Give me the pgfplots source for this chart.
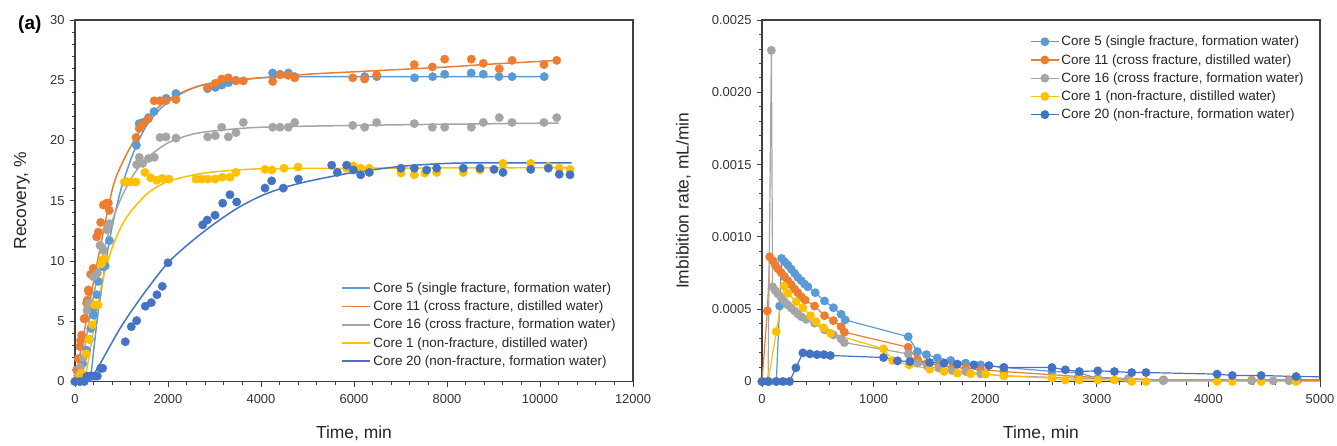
\documentclass[border=0pt]{standalone}
\usepackage{fontspec}
\setmainfont{Liberation Sans}
\usepackage{pgfplots}
\pgfplotsset{compat=1.18}

\definecolor{cfive}{HTML}{5B9BD5}
\definecolor{celeven}{HTML}{ED7D31}
\definecolor{csixteen}{HTML}{A5A5A5}
\definecolor{cone}{HTML}{FFC000}
\definecolor{ctwenty}{HTML}{4472C4}

\pgfplotsset{
  panel/.style={
    scale only axis, width=558bp, height=361.5bp,
    axis line style={black!75, line width=1.1bp},
    tick align=outside, tick pos=left,
    major tick length=5bp, minor tick length=3bp,
    every tick/.style={black!75, line width=0.8bp},
    minor x tick num=4, minor y tick num=4,
    tick label style={font=\fontsize{13}{15}\selectfont, text=black!80},
    xticklabel style={yshift=-4bp},
    yticklabel style={xshift=-2bp},
    label style={font=\fontsize{17.5}{20}\selectfont, text=black!85},
    /pgf/number format/assume math mode=true,
    /pgf/number format/1000 sep={},
    scaled ticks=false,
    legend style={draw=none, fill=none, font=\fontsize{13.5}{15}\selectfont,
      text=black!85, cells={anchor=west}, row sep=3bp},
    legend image code/.code={\draw[mark repeat=2,mark phase=2]
      plot coordinates {(0bp,0bp) (14bp,0bp) (28bp,0bp)};},
  },
  pts/.style={only marks, mark=*, mark size=4.2bp, color=#1, forget plot},
  fit/.style={color=#1, line width=1.5bp, smooth, no marks, forget plot},
  ser/.style={color=#1, line width=1.2bp, mark=*, mark size=3.8bp},
  tail/.style={color=#1, line width=1.2bp, no marks, forget plot},
}

\begin{document}
\begin{tikzpicture}
\useasboundingbox (0,0) rectangle (1337bp,446bp);

% ---------- (a) recovery ----------
\begin{axis}[panel, at={(75bp,64.5bp)}, anchor=south west,
  xmin=0, xmax=12000, ymin=0, ymax=30,
  xtick={0,2000,...,12000}, ytick={0,5,...,30},
  clip=false,
  xlabel={Time, min}, ylabel={Recovery, \%},
  xlabel style={at={(axis description cs:0.5,-0.143)}, anchor=center},
  ylabel style={at={(axis description cs:-0.095,0.5)}, anchor=center},
  legend style={at={(axis description cs:0.472,0.285)}, anchor=north west},
]
% Core 5
\addplot[pts=cfive] coordinates {
 (0,0) (100,0) (165,1.5) (250,2.6) (310,3.5) (340,4.4) (395,5.5) (400,6.1)
 (470,7.2) (500,8.3) (610,9.5) (650,9.6) (740,11.7) (1320,19.6) (1380,21.4)
 (1460,21.5) (1580,21.9) (1700,22.4) (1960,23.5) (2170,23.9) (2850,24.3)
 (3020,24.4) (3160,24.6) (3300,24.8) (3460,25.0) (4250,25.6) (4410,25.5)
 (4590,25.6) (4720,25.3) (6230,25.3) (6490,25.3) (7300,25.2) (7690,25.3)
 (7950,25.5) (8520,25.6) (8780,25.5) (9120,25.3) (9400,25.3) (10090,25.3)
};
\addplot[fit=cfive] coordinates {
 (330,0) (500,5.8) (750,11.9) (1000,16.1) (1300,19.4) (1600,21.6) (2000,23.2)
 (2500,24.3) (3000,24.8) (4000,25.2) (5000,25.3) (7000,25.3) (10090,25.3)
};
% Core 11
\addplot[pts=celeven] coordinates {
 (0,0) (36,0.95) (50,1.0) (71,1.9) (107,2.9) (122,3.4) (144,3.85) (194,5.2)
 (215,5.25) (251,6.5) (265,6.75) (286,7.6) (295,7.45) (337,8.9) (366,8.9)
 (394,9.4) (466,12.0) (501,12.4) (552,13.2) (609,14.65) (660,14.7) (681,14.8)
 (717,14.8) (738,14.2) (1312,20.25) (1383,21.0) (1455,21.35) (1577,21.8)
 (1705,23.3) (1828,23.3) (1957,23.3) (2172,23.4) (2853,24.4) (3017,24.75)
 (3155,25.1) (3297,25.2) (3462,24.95) (3620,24.95) (4251,24.9) (4409,25.45)
 (4588,25.4) (4725,25.2) (5972,25.2) (6229,25.1) (6487,25.45) (7297,26.3)
 (7685,26.1) (7950,26.75) (8523,26.75) (8781,26.4) (9125,25.95) (9398,26.65)
 (10086,26.3) (10359,26.65)
};
\addplot[fit=celeven] coordinates {
 (0,0) (250,5.2) (500,10.3) (800,15.9) (1000,18.0) (1300,20.2) (1600,22.0)
 (2000,23.4) (2500,24.3) (3000,24.8) (4000,25.2) (5000,25.5) (6000,25.7)
 (7000,25.9) (8000,26.1) (9000,26.35) (10400,26.65)
};
% Core 16
\addplot[pts=csixteen] coordinates {
 (0,0) (60,0.5) (120,1.2) (180,2.0) (258,5.9) (300,6.5) (394,8.7) (480,9.0)
 (537,11.3) (609,10.9) (681,12.6) (740,13.1) (1326,18.0) (1383,18.6)
 (1455,18.1) (1577,18.5) (1705,18.6) (1828,20.25) (1957,20.3) (2172,20.2)
 (2853,20.3) (3017,20.4) (3155,21.1) (3297,20.3) (3462,20.65) (3620,21.5)
 (4251,21.1) (4409,21.1) (4588,21.1) (4725,21.5) (5972,21.25) (6229,21.1)
 (6487,21.5) (7297,21.4) (7685,21.1) (7950,21.1) (8523,21.1) (8781,21.5)
 (9125,21.9) (9398,21.5) (10086,21.5) (10359,21.9)
};
\addplot[fit=csixteen] coordinates {
 (100,0) (300,5.0) (500,9.0) (750,12.7) (1000,15.3) (1300,17.4) (1600,18.7)
 (2000,19.8) (2500,20.5) (3000,20.8) (4000,21.1) (6000,21.25) (8000,21.35)
 (10400,21.45)
};
% Core 1
\addplot[pts=cone] coordinates {
 (0,0) (107,0.5) (136,0.7) (243,2.3) (300,3.5) (373,4.7) (423,6.35) (466,6.35)
 (495,6.35) (566,9.75) (595,10.1) (640,10.2) (1061,16.55) (1104,16.6)
 (1183,16.55) (1312,16.55) (1505,17.35) (1628,16.9) (1757,16.7) (1878,16.85)
 (2022,16.8) (2602,16.8) (2725,16.8) (2853,16.8) (3017,16.8) (3168,16.95)
 (3333,16.95) (3462,17.35) (4086,17.6) (4237,17.55) (4495,17.7) (4796,17.8)
 (5842,17.7) (5986,17.9) (6144,17.7) (6329,17.7) (7011,17.3) (7297,17.15)
 (7525,17.3) (7778,17.35) (8351,17.35) (8710,17.55) (9204,18.1) (9800,18.1)
 (10179,17.85) (10415,17.7) (10645,17.6)
};
\addplot[fit=cone] coordinates {
 (200,0) (300,2.0) (450,5.5) (600,8.5) (800,11.1) (1000,12.9) (1200,14.1)
 (1500,15.4) (1700,16.0) (2000,16.6) (2500,17.1) (3000,17.4) (4000,17.65)
 (6000,17.7) (10650,17.75)
};
% Core 20
\addplot[pts=ctwenty] coordinates {
 (0,0) (100,0) (200,0) (251,0.4) (280,0.45) (330,0.45) (380,0.45) (430,0.45)
 (480,0.45) (552,1.1) (595,1.1) (1082,3.3) (1211,4.55) (1326,5.05) (1512,6.25)
 (1641,6.55) (1763,7.2) (1877,7.9) (2000,9.85) (2746,13.0) (2845,13.4)
 (3011,13.8) (3176,14.8) (3333,15.5) (3477,14.9) (4086,16.05) (4230,16.65)
 (4480,16.05) (4803,16.8) (5520,17.95) (5641,17.35) (5842,17.95) (5986,17.55)
 (6144,17.15) (6329,17.35) (7011,17.7) (7297,17.7) (7563,17.55) (7778,17.7)
 (8351,17.7) (8710,17.7) (9011,17.6) (9204,17.35) (9800,17.6) (10179,17.7)
 (10415,17.2) (10645,17.15)
};
\addplot[fit=ctwenty] coordinates {
 (300,0) (500,1.2) (1000,4.6) (1500,7.4) (2000,9.85) (2500,11.6) (3000,13.1)
 (3500,14.4) (4000,15.4) (4500,16.1) (5000,16.6) (5500,17.0) (6000,17.35)
 (7000,17.85) (8000,18.1) (9000,18.15) (10680,18.15)
};
\addlegendimage{color=cfive, line width=1.8bp}
\addlegendentry{Core 5 (single fracture, formation water)}
\addlegendimage{color=celeven, line width=1.8bp}
\addlegendentry{Core 11 (cross fracture, distilled water)}
\addlegendimage{color=csixteen, line width=1.8bp}
\addlegendentry{Core 16 (cross fracture, formation water)}
\addlegendimage{color=cone, line width=1.8bp}
\addlegendentry{Core 1 (non-fracture, distilled water)}
\addlegendimage{color=ctwenty, line width=1.8bp}
\addlegendentry{Core 20 (non-fracture, formation water)}
\node[font=\bfseries\fontsize{19}{22}\selectfont, anchor=center]
  at (axis description cs:-0.081,0.987) {(a)};
\end{axis}

% ---------- (b) imbibition rate ----------
\begin{axis}[panel, at={(762bp,64.5bp)}, anchor=south west,
  xmin=0, xmax=5000, ymin=0, ymax=0.0025,
  xtick={0,1000,...,5000},
  ytick={0,0.0005,0.001,0.0015,0.002,0.0025},
  yticklabels={0,0.0005,0.0010,0.0015,0.0020,0.0025},
  xlabel={Time, min}, ylabel={Imbibition rate, mL/min},
  xlabel style={at={(axis description cs:0.5,-0.143)}, anchor=center},
  ylabel style={at={(axis description cs:-0.141,0.5)}, anchor=center},
  legend style={at={(axis description cs:0.475,0.967)}, anchor=north west},
]
\addplot[ser=cfive] coordinates {
 (0,0) (64,0) (128,0) (158,0.000522) (175,0.000851) (203,0.000828)
 (232,0.000805) (262,0.000777) (292,0.000748) (321,0.00072) (352,0.000697)
 (381,0.000674) (411,0.000655) (477,0.000614) (560,0.000557) (640,0.00051)
 (709,0.000465) (745,0.000426) (1310,0.00031) (1393,0.000207) (1473,0.000186)
 (1571,0.000163) (1691,0.000146) (1825,0.000127) (1959,0.000115)
 (2167,0.000097) (2598,0.00007) (2843,0.00006) (3009,0.00002) (3600,0.00001)
 (4800,0.00001)
};
\addlegendentry{Core 5 (single fracture, formation water)}
\addplot[ser=celeven] coordinates {
 (0,0) (48,0.000488) (69,0.000862) (98,0.000835) (119,0.000805) (143,0.000779)
 (173,0.000752) (203,0.000724) (232,0.000697) (262,0.000669) (292,0.000639)
 (321,0.000614) (352,0.000586) (387,0.000563) (471,0.000522) (560,0.000455)
 (640,0.000421) (709,0.000379) (738,0.000341) (1310,0.000237) (1393,0.000154)
 (1482,0.000127) (1587,0.00011) (1706,0.0000966) (1825,0.0000924)
 (1959,0.0000807) (2167,0.000069) (2836,0.0000345) (3283,0.00002)
 (3595,0.00001) (4387,0.00001) (4723,0.00001)
};
\addlegendentry{Core 11 (cross fracture, distilled water)}
\addplot[ser=csixteen] coordinates {
 (0,0) (54,0) (84,0.00229) (95,0.000655) (119,0.000628) (143,0.000605)
 (173,0.000579) (203,0.000552) (232,0.000529) (262,0.000508) (292,0.000488)
 (321,0.000467) (352,0.000448) (396,0.00043) (471,0.000403) (560,0.000357)
 (640,0.000322) (709,0.000294) (738,0.000269) (1310,0.000191) (1393,0.000127)
 (1482,0.000105) (1587,0.0000924) (1706,0.0000759) (1825,0.000069)
 (1959,0.0000531) (2167,0.0000393) (2836,0.0000234) (3283,0.0000186)
 (3595,0.000005) (4387,0.000005) (4580,0.000005) (4723,0.000005)
};
\addlegendentry{Core 16 (cross fracture, formation water)}
\addplot[ser=cone] coordinates {
 (0,0) (54,0) (128,0.000345) (197,0.00066) (232,0.00061) (307,0.000552)
 (366,0.00051) (435,0.000455) (485,0.000414) (551,0.000372) (613,0.000334)
 (1089,0.000226) (1170,0.000145) (1319,0.000115) (1503,0.0000855)
 (1631,0.000069) (1750,0.0000579) (1870,0.0000531) (2003,0.000051)
 (2167,0.0000393) (2598,0.0000234) (2718,0.0000097) (2843,0.00001)
 (3009,0.00001) (3158,0.00001) (3313,0) (3441,0) (4078,0) (4214,0) (4473,0)
 (4786,0)
};
\addlegendentry{Core 1 (non-fracture, distilled water)}
\addplot[ser=ctwenty] coordinates {
 (0,0) (54,0) (128,0) (188,0) (247,0) (304,0.0000945) (366,0.000198)
 (429,0.000191) (492,0.000186) (554,0.000186) (613,0.00018) (1089,0.000166)
 (1214,0.000143) (1325,0.000138) (1503,0.000131) (1631,0.000127)
 (1750,0.00012) (1899,0.000115) (2033,0.00011) (2167,0.0000966)
 (2598,0.0000966) (2718,0.0000807) (2843,0.000069) (3009,0.0000738)
 (3158,0.000069) (3313,0.000062) (3441,0.000062) (4078,0.000051)
 (4214,0.0000414) (4473,0.0000414) (4786,0.0000345)
};
\addlegendentry{Core 20 (non-fracture, formation water)}
\addplot[tail=ctwenty] coordinates {(4786,0.0000345) (5000,0.000033)};
\addplot[tail=celeven] coordinates {(4723,0.00001) (5000,0.00001)};
\addplot[tail=cone] coordinates {(4786,0) (5000,0)};
\node[font=\bfseries\fontsize{19}{22}\selectfont, anchor=center]
  at (axis description cs:-0.112,0.987) {(b)};
\end{axis}
\end{tikzpicture}
\end{document}
